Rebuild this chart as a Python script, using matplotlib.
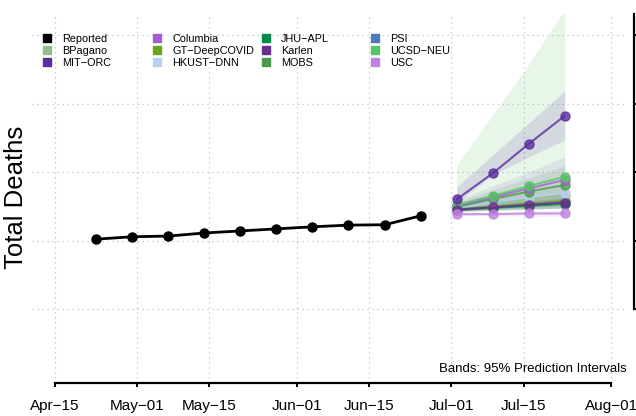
import numpy as np
import pandas as pd
import matplotlib
matplotlib.use("Agg")
import matplotlib.pyplot as plt
import matplotlib.dates as mdates
from matplotlib.lines import Line2D

plt.rcParams['font.family'] = ['Liberation Sans', 'DejaVu Sans']

# ---- data ---------------------------------------------------------------
reported_dates = pd.date_range("2020-04-23", periods=10, freq="7D")
reported = [3020, 3055, 3065, 3110, 3140, 3170, 3200, 3225, 3230, 3360]

fc_dates = pd.date_range("2020-07-02", periods=4, freq="7D")

models = ["BPagano", "MIT-ORC", "Columbia", "GT-DeepCOVID", "HKUST-DNN",
          "JHU-APL", "Karlen", "MOBS", "PSI", "UCSD-NEU", "USC"]
colors = ["#8fbf8f", "#5b2ca0", "#a55cd6", "#6aa51e", "#b8d0f0",
          "#008a47", "#6b2d90", "#4a9a4a", "#4f78bf", "#56c565", "#c080e0"]

point = {
    "BPagano":      [3490, 3550, 3605, 3665],
    "MIT-ORC":      [3600, 3980, 4410, 4820],
    "Columbia":     [3505, 3630, 3760, 3885],
    "GT-DeepCOVID": [3455, 3495, 3540, 3580],
    "HKUST-DNN":    [3475, 3560, 3635, 3695],
    "JHU-APL":      [3445, 3475, 3505, 3535],
    "Karlen":       [3450, 3485, 3520, 3555],
    "MOBS":         [3490, 3605, 3715, 3810],
    "PSI":          [3455, 3490, 3525, 3560],
    "UCSD-NEU":     [3520, 3650, 3795, 3930],
    "USC":          [3385, 3385, 3395, 3395],
}
lower = {
    "BPagano":      [3460, 3500, 3530, 3560],
    "MIT-ORC":      [3548, 3956, 4219, 4467],
    "Columbia":     [3445, 3489, 3548, 3591],
    "GT-DeepCOVID": [3430, 3450, 3470, 3490],
    "HKUST-DNN":    [3431, 3460, 3489, 3518],
    "JHU-APL":      [3425, 3440, 3455, 3470],
    "Karlen":       [3430, 3445, 3460, 3475],
    "MOBS":         [3431, 3475, 3518, 3548],
    "PSI":          [3440, 3470, 3490, 3510],
    "UCSD-NEU":     [3416, 3445, 3460, 3475],
    "USC":          [3370, 3360, 3355, 3350],
}
upper = {
    "BPagano":      [3520, 3610, 3700, 3790],
    "MIT-ORC":      [3781, 4248, 4716, 5183],
    "Columbia":     [3591, 3796, 4000, 4219],
    "GT-DeepCOVID": [3480, 3540, 3610, 3680],
    "HKUST-DNN":    [3533, 3664, 3781, 3883],
    "JHU-APL":      [3465, 3510, 3555, 3600],
    "Karlen":       [3475, 3525, 3580, 3630],
    "MOBS":         [3562, 3737, 3913, 4088],
    "PSI":          [3480, 3545, 3600, 3660],
    "UCSD-NEU":     [4102, 4837, 5573, 6365],
    "USC":          [3400, 3410, 3430, 3445],
}
draw_order = ["PSI", "GT-DeepCOVID", "JHU-APL", "BPagano", "HKUST-DNN", "MOBS",
              "Columbia", "UCSD-NEU", "Karlen", "USC", "MIT-ORC"]

tick_dates = pd.to_datetime(["2020-04-15", "2020-05-01", "2020-05-15", "2020-06-01",
                             "2020-06-15", "2020-07-01", "2020-07-15", "2020-08-01"])
tick_labels = ["Apr\u221215", "May\u221201", "May\u221215", "Jun\u221201",
               "Jun\u221215", "Jul\u221201", "Jul\u221215", "Aug\u221201"]
y_ticks = [2000, 3000, 4000, 5000, 6000]

# ---- figure -------------------------------------------------------------
W, H = 636, 416
fig = plt.figure(figsize=(W / 100, H / 100), dpi=100)
ax = fig.add_axes([32 / W, 1 - 383 / H, 595 / W, 369 / H])

t0 = tick_dates[0]
ax.set_xlim(t0 - pd.Timedelta(days=4.47), t0 + pd.Timedelta(days=111.1))
ax.set_ylim(920, 6307)

col = dict(zip(models, colors))

# bands first
for m in draw_order:
    ax.fill_between(fc_dates, lower[m], upper[m], color=col[m], alpha=0.14, lw=0, zorder=1)

ax.plot(reported_dates, reported, color="black", lw=2, marker="o", ms=6.5, zorder=4)

for m in draw_order:
    ax.plot(fc_dates, point[m], color=col[m], lw=1.5, marker="o", ms=6.5, alpha=0.8, zorder=3)

# axes styling
ax.spines["top"].set_visible(False)
ax.spines["left"].set_visible(False)
ax.spines["bottom"].set_linewidth(1.6)
ax.spines["bottom"].set_bounds(mdates.date2num(tick_dates[0]), mdates.date2num(tick_dates[-1]))
ax.spines["right"].set_linewidth(1.6)
ax.spines["right"].set_position(("outward", 5))
ax.spines["right"].set_bounds(2000, 6307)

ax.set_xticks(tick_dates)
ax.set_xticklabels(tick_labels, fontsize=11)
ax.tick_params(axis="x", length=3, width=1.4, pad=8.5)

ax.yaxis.tick_right()
ax.set_yticks(y_ticks)
ax.tick_params(axis="y", length=3, width=1.4, labelright=False, left=False)

ax.grid(True, color="#c0c0c0", linestyle=(0, (1, 3)), lw=0.9, zorder=0)
ax.set_axisbelow(True)

fig.text(16 / W, 1 - 197 / H, "Total Deaths", rotation=90, fontsize=18.5,
         ha="center", va="center")
fig.text(627 / W, 1 - 369 / H, "Bands: 95% Prediction Intervals", fontsize=9.5,
         ha="right", va="center")

# legend: 4 columns of 3
labels = ["Reported"] + models
lcolors = ["black"] + colors
col_x = [41.6, 151.6, 260.6, 369.6]
for i in range(4):
    handles = [Line2D([], [], marker="s", ls="", color=lcolors[j], ms=6.3)
               for j in range(3 * i, 3 * i + 3)]
    labs = [labels[j].replace("-", "\u2212") for j in range(3 * i, 3 * i + 3)]
    fig.legend(handles, labs, loc="upper left",
               bbox_to_anchor=(col_x[i] / W, 1 - 33.5 / H),
               frameon=False, fontsize=7.8, borderpad=0, borderaxespad=0,
               handlelength=1, handletextpad=0.9, labelspacing=0.2)

fig.savefig("out.png", dpi=100)
